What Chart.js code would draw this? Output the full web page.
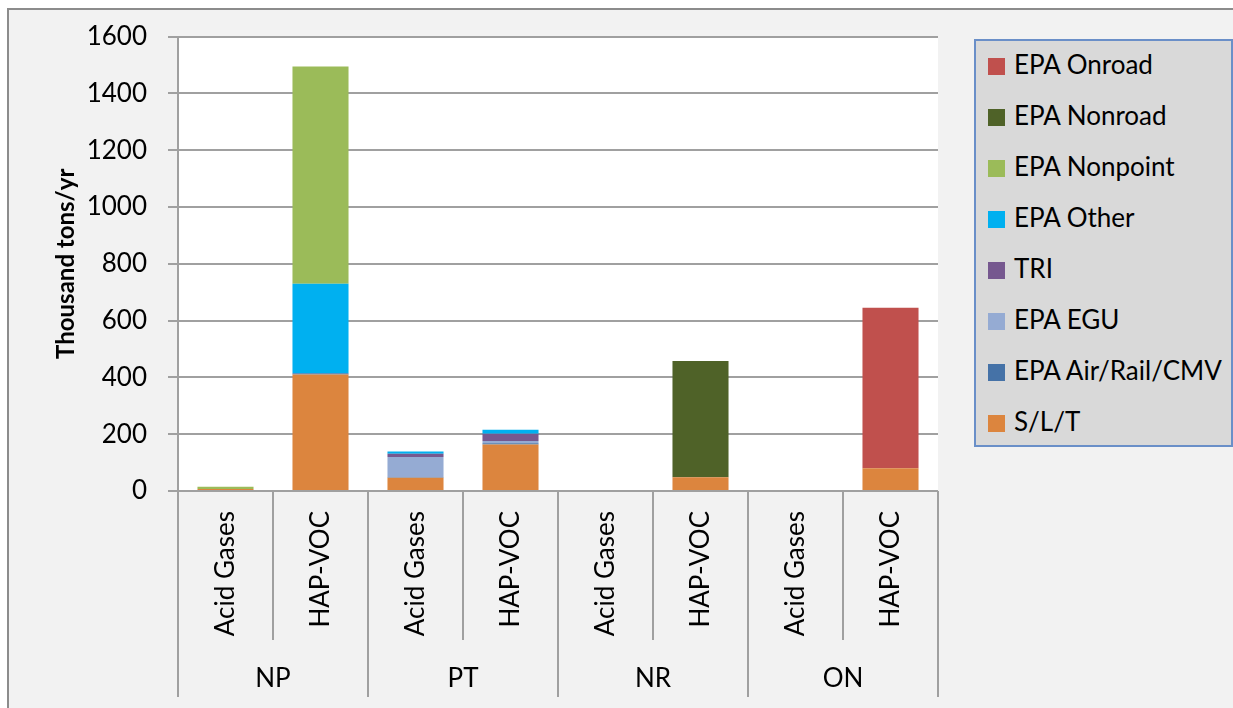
<!DOCTYPE html>
<html>
<head>
<meta charset="utf-8">
<script src="https://cdn.jsdelivr.net/npm/chart.js@4.4.1/dist/chart.umd.min.js"></script>
<style>
  html, body { margin: 0; padding: 0; background: #fff; overflow: hidden; }
  #frame {
    position: absolute; left: 7px; top: 8px; width: 1300px; height: 800px;
    background: #f2f2f2; border: 2px solid #8c8c8c;
  }
  #wrap { position: absolute; left: 0; top: 0; width: 1233px; height: 708px; }
  #legend {
    position: absolute; left: 974px; top: 39px; width: 255px; height: 404px;
    background: #d9d9d9; border: 2px solid #6a8fc8;
    font-family: Lato, sans-serif; font-size: 26px; color: #000;
  }
  .item { position: absolute; left: 12px; height: 30px; line-height: 30px; white-space: nowrap; }
  .item span { display: inline-block; width: 17px; height: 17px; margin-right: 9px; vertical-align: -1px; }
</style>
</head>
<body>
<div id="frame"></div>
<div id="wrap"><canvas id="chart" width="1233" height="708"></canvas></div>
<div id="legend"></div>
<script>
// categories
const groups = ["NP", "PT", "NR", "ON"];
const subs = ["Acid Gases", "HAP-VOC"];

// series values, order: NP Acid, NP HAP, PT Acid, PT HAP, NR Acid, NR HAP, ON Acid, ON HAP
const slt      = [7, 410, 47, 164, 0, 48, 0, 80];
const airRail  = [0, 5, 1, 4, 0, 0, 0, 0];
const egu      = [0, 0, 72, 8, 0, 0, 0, 0];
const tri      = [0, 0, 11, 26, 0, 0, 0, 0];
const other    = [0, 315, 8, 14, 0, 0, 0, 0];
const nonpoint = [8, 765, 0, 0, 0, 0, 0, 0];
const nonroad  = [0, 0, 0, 0, 0, 410, 0, 0];
const onroad   = [0, 0, 0, 0, 0, 0, 0, 565];

const yTicks = [0, 200, 400, 600, 800, 1000, 1200, 1400, 1600];

const labels = [];
groups.forEach(g => subs.forEach(s => labels.push(g + " " + s)));

const font = "Lato, sans-serif";

const whiteArea = {
  id: "whiteArea",
  beforeDraw(chart) {
    const { ctx, chartArea: a } = chart;
    ctx.save();
    ctx.fillStyle = "#fff";
    ctx.fillRect(a.left, a.top, a.right - a.left, a.bottom - a.top);
    ctx.restore();
  }
};

// two level category axis + y title
const axisLabels = {
  id: "axisLabels",
  afterDraw(chart) {
    const { ctx, chartArea: a } = chart;
    const x = chart.scales.x;
    const step = x.getPixelForValue(1) - x.getPixelForValue(0);
    ctx.save();
    ctx.strokeStyle = "#a0a0a0";
    ctx.lineWidth = 2;
    ctx.beginPath();
    ctx.moveTo(a.left, a.bottom);
    ctx.lineTo(a.right, a.bottom);
    for (let i = 0; i <= labels.length; i++) {
      const bx = Math.round(x.getPixelForValue(0) - step / 2 + i * step);
      ctx.moveTo(bx, a.bottom);
      ctx.lineTo(bx, i % subs.length === 0 ? 697 : 640);
    }
    ctx.stroke();

    ctx.fillStyle = "#000";
    ctx.font = "26px " + font;
    ctx.textBaseline = "middle";
    labels.forEach((l, i) => {
      const cx = x.getPixelForValue(i);
      ctx.save();
      ctx.translate(cx, 511);
      ctx.rotate(-Math.PI / 2);
      ctx.textAlign = "right";
      ctx.fillText(subs[i % subs.length], 0, 0);
      ctx.restore();
    });
    ctx.textAlign = "center";
    groups.forEach((g, gi) => {
      const c0 = x.getPixelForValue(gi * subs.length);
      const c1 = x.getPixelForValue(gi * subs.length + subs.length - 1);
      ctx.fillText(g, (c0 + c1) / 2, 679);
    });

    ctx.save();
    ctx.translate(66, (a.top + a.bottom) / 2);
    ctx.rotate(-Math.PI / 2);
    ctx.font = "bold 24px " + font;
    ctx.fillText("Thousand tons/yr", 0, 0);
    ctx.restore();
    ctx.restore();
  }
};

const series = [
  { label: "S/L/T", data: slt, color: "#dc853e" },
  { label: "EPA Air/Rail/CMV", data: airRail, color: "#4572a7" },
  { label: "EPA EGU", data: egu, color: "#95abd3" },
  { label: "TRI", data: tri, color: "#76588f" },
  { label: "EPA Other", data: other, color: "#00b0f0" },
  { label: "EPA Nonpoint", data: nonpoint, color: "#9bbb59" },
  { label: "EPA Nonroad", data: nonroad, color: "#4f6228" },
  { label: "EPA Onroad", data: onroad, color: "#c0504d" }
];

const chart = new Chart(document.getElementById("chart"), {
  type: "bar",
  data: {
    labels: labels,
    datasets: series.map(s => ({
      label: s.label, data: s.data, backgroundColor: s.color,
      borderWidth: 0, barPercentage: 0.59, categoryPercentage: 1.0
    }))
  },
  options: {
    responsive: false,
    animation: false,
    layout: { padding: { left: 0, top: 35, right: 295, bottom: 217 } },
    plugins: { legend: { display: false }, tooltip: { enabled: false } },
    scales: {
      x: { stacked: true, display: false },
      y: {
        stacked: true, min: 0, max: 1600,
        afterBuildTicks(scale) { scale.ticks = yTicks.map(v => ({ value: v })); },
        afterFit(scale) { scale.width = 178; },
        ticks: { color: "#000", padding: 21, font: { family: font, size: 26 }, callback: v => String(v) },
        grid: { color: "#a0a0a0", lineWidth: 2, tickLength: 10 },
        border: { color: "#a0a0a0", width: 2 }
      }
    }
  },
  plugins: [whiteArea, axisLabels]
});

// legend, top item is last series
const legend = document.getElementById("legend");
series.slice().reverse().forEach((s, i) => {
  const d = legend.appendChild(document.createElement("div"));
  d.className = "item";
  d.style.top = (8 + i * 51) + "px";
  d.innerHTML = '<span style="background:' + s.color + '"></span>' + s.label;
});
</script>
</body>
</html>
